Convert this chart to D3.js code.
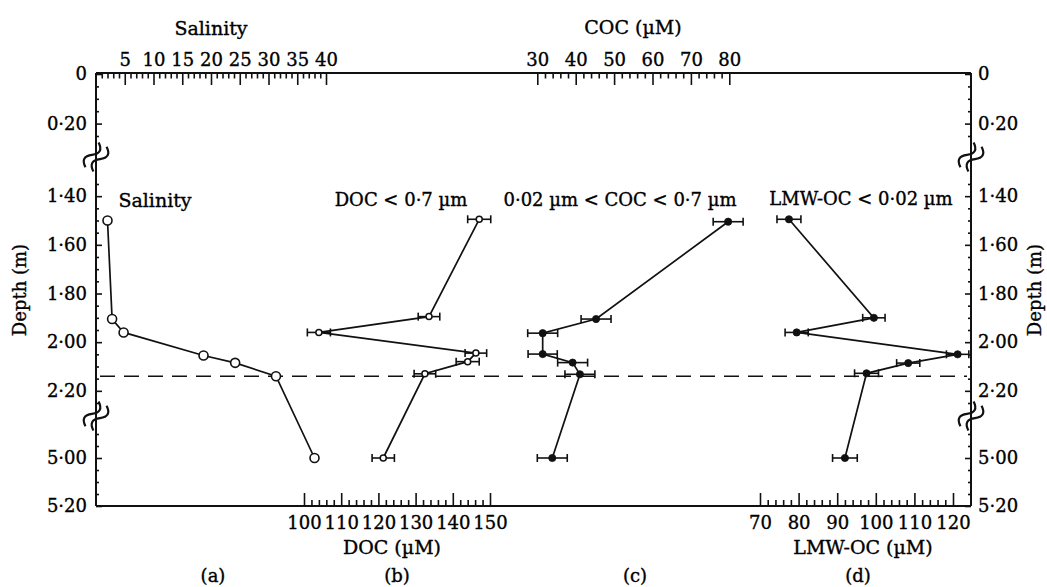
<!DOCTYPE html>
<html>
<head>
<meta charset="utf-8">
<script src="https://cdn.jsdelivr.net/npm/d3@7"></script>
<style>
  html, body { margin: 0; padding: 0; background: #fff; }
  svg { display: block; }
  text { font-family: "DejaVu Serif", "Liberation Serif", serif; fill: #000; stroke: #000; stroke-width: 0.35px; }
</style>
</head>
<body>
<svg id="chart" width="1047" height="587"></svg>
<script>
// ---------------- data ----------------
const depthMajorTicks = [0, 0.2, 1.4, 1.6, 1.8, 2.0, 2.2, 5.0, 5.2];
const depthSegments = [[0, 0.25], [1.35, 2.25], [4.9, 5.2]];

const salinityTicks = [5, 10, 15, 20, 25, 30, 35, 40];
const docTicks = [100, 110, 120, 130, 140, 150];
const cocTicks = [30, 40, 50, 60, 70, 80];
const lmwTicks = [70, 80, 90, 100, 110, 120];

const salinityDepth = [1.50, 1.905, 1.96, 2.055, 2.085, 2.14, 5.00];
const salinity      = [2.0, 2.8, 4.8, 18.7, 24.2, 31.3, 38.0];

const docDepth = [1.495, 1.895, 1.96, 2.045, 2.08, 2.13, 5.00];
const doc      = [147.1, 133.6, 104.0, 146.2, 144.0, 132.5, 121.3];
const docErr   = [3.1, 2.9, 3.1, 2.9, 3.1, 2.9, 3.0];

const cocDepth = [1.505, 1.905, 1.963, 2.049, 2.084, 2.132, 5.00];
const coc      = [79.7, 45.3, 31.4, 31.4, 39.2, 41.1, 33.9];
const cocErr   = [3.9, 3.9, 3.9, 3.8, 3.9, 3.9, 3.9];

const lmwDepth = [1.495, 1.90, 1.96, 2.05, 2.086, 2.128, 5.00];
const lmw      = [77.5, 99.5, 79.5, 121.2, 108.4, 97.6, 92.0];
const lmwErr   = [3.1, 2.9, 3.0, 2.9, 3.0, 3.1, 3.2];

const mixingDepth = 2.14;

// ---------------- layout ----------------
const svg = d3.select("#chart");
const X0 = 96, X1 = 971, Y0 = 73, Y1 = 506;

const y = d3.scaleLinear()
  .domain([0, 0.25, 1.35, 2.25, 4.9, 5.2])
  .range([Y0 + 1, 136, 184, 403, 434, Y1]);

const xSal = d3.scaleLinear().domain([0, 40]).range([X0, 326]);
const xDoc = d3.scaleLinear().domain([100, 150]).range([304, 490]);
const xCoc = d3.scaleLinear().domain([30, 80]).range([537.3, 729.3]);
const xLmw = d3.scaleLinear().domain([70, 120]).range([760, 953]);

const fmtDepth = d => d === 0 ? "0" : d.toFixed(2).replace(".", "\u00B7");

// ---------------- frame ----------------
const frame = svg.append("g").attr("stroke", "#111").attr("stroke-width", 2).attr("fill", "none");
frame.append("line").attr("x1", X0).attr("x2", X1).attr("y1", Y0).attr("y2", Y0);
frame.append("line").attr("x1", X0).attr("x2", X1).attr("y1", Y1).attr("y2", Y1);
frame.append("line").attr("x1", X0).attr("x2", X0).attr("y1", Y0).attr("y2", Y1);
frame.append("line").attr("x1", X1).attr("x2", X1).attr("y1", Y0).attr("y2", Y1);

function styleAxis(g, fontSize) {
  g.select(".domain").remove();
  g.selectAll(".tick line").attr("stroke", "#111").attr("stroke-width", 1.6);
  g.selectAll(".tick text").attr("font-family", "DejaVu Serif, serif")
    .attr("font-size", fontSize).attr("fill", "#000");
  return g;
}

// minor depth ticks every 0.05 in each visible segment
const depthMinor = [];
depthSegments.forEach(([a, b]) => {
  for (let v = a; v <= b + 1e-9; v += 0.05) {
    const r = Math.round(v * 100) / 100;
    if (!depthMajorTicks.some(t => Math.abs(t - r) < 1e-6)) depthMinor.push(r);
  }
});

// Left axis
styleAxis(svg.append("g").attr("transform", `translate(${X0},0)`)
  .call(d3.axisLeft(y).tickValues(depthMajorTicks).tickSize(-6).tickPadding(9).tickFormat(fmtDepth)), 18);
styleAxis(svg.append("g").attr("transform", `translate(${X0},0)`)
  .call(d3.axisLeft(y).tickValues(depthMinor).tickSize(-3).tickFormat("")), 18);
// Right axis
styleAxis(svg.append("g").attr("transform", `translate(${X1},0)`)
  .call(d3.axisRight(y).tickValues(depthMajorTicks).tickSize(-6).tickPadding(7).tickFormat(fmtDepth)), 18);
styleAxis(svg.append("g").attr("transform", `translate(${X1},0)`)
  .call(d3.axisRight(y).tickValues(depthMinor).tickSize(-3).tickFormat("")), 18);

function minorRange(a, b, step, majorStep) {
  const out = [];
  for (let v = a; v <= b + 1e-9; v += step) {
    const r = Math.round(v * 100) / 100;
    if (Math.abs(r / majorStep - Math.round(r / majorStep)) > 1e-6) out.push(r);
  }
  return out;
}

// Salinity (top)
styleAxis(svg.append("g").attr("transform", `translate(0,${Y0})`)
  .call(d3.axisTop(xSal).tickValues(salinityTicks).tickSize(-12).tickPadding(7).tickFormat(d3.format("d"))), 18);
styleAxis(svg.append("g").attr("transform", `translate(0,${Y0})`)
  .call(d3.axisTop(xSal).tickValues(minorRange(1, 39, 1, 5)).tickSize(-5.5).tickFormat("")), 18);
// COC (top)
styleAxis(svg.append("g").attr("transform", `translate(0,${Y0})`)
  .call(d3.axisTop(xCoc).tickValues(cocTicks).tickSize(-12).tickPadding(7).tickFormat(d3.format("d"))), 18);
styleAxis(svg.append("g").attr("transform", `translate(0,${Y0})`)
  .call(d3.axisTop(xCoc).tickValues(minorRange(32, 78, 2, 10)).tickSize(-5.5).tickFormat("")), 18);
// DOC (bottom)
styleAxis(svg.append("g").attr("transform", `translate(0,${Y1})`)
  .call(d3.axisBottom(xDoc).tickValues(docTicks).tickSize(-13).tickPadding(10).tickFormat(d3.format("d"))), 18);
styleAxis(svg.append("g").attr("transform", `translate(0,${Y1})`)
  .call(d3.axisBottom(xDoc).tickValues(minorRange(102, 148, 2, 10)).tickSize(-6).tickFormat("")), 18);
// LMW-OC (bottom)
styleAxis(svg.append("g").attr("transform", `translate(0,${Y1})`)
  .call(d3.axisBottom(xLmw).tickValues(lmwTicks).tickSize(-13).tickPadding(10).tickFormat(d3.format("d"))), 18);
styleAxis(svg.append("g").attr("transform", `translate(0,${Y1})`)
  .call(d3.axisBottom(xLmw).tickValues(minorRange(72, 118, 2, 10)).tickSize(-6).tickFormat("")), 18);

// axis breaks
function brk(cx, cy) {
  const g = svg.append("g").attr("transform", `translate(${cx},${cy}) rotate(-62)`)
    .attr("fill", "none").attr("stroke", "#111").attr("stroke-width", 2.2);
  g.append("path").attr("d", "M-14,-4.5 q7,-10 14,0 t14,0");
  g.append("path").attr("d", "M-14,4.5 q7,-10 14,0 t14,0");
}
[157, 416].forEach(cy => { brk(X0, cy); brk(X1, cy); });

// ---------------- mixing line ----------------
svg.append("line")
  .attr("x1", X0 + 4).attr("x2", X1 - 4)
  .attr("y1", y(mixingDepth)).attr("y2", y(mixingDepth))
  .attr("stroke", "#111").attr("stroke-width", 1.4).attr("stroke-dasharray", "15,9");

// ---------------- series ----------------
function series(depths, vals, errs, xs, marker) {
  const pts = depths.map((d, i) => ({ d, v: vals[i], e: errs ? errs[i] : 0 }));
  const g = svg.append("g");
  g.append("path").datum(pts)
    .attr("d", d3.line().x(p => xs(p.v)).y(p => y(p.d)))
    .attr("fill", "none").attr("stroke", "#111").attr("stroke-width", 1.7);
  if (errs) {
    const eb = g.selectAll(".eb").data(pts).join("g").attr("stroke", "#111").attr("stroke-width", 1.6);
    eb.append("line").attr("x1", p => xs(p.v - p.e)).attr("x2", p => xs(p.v + p.e))
      .attr("y1", p => y(p.d)).attr("y2", p => y(p.d));
    eb.append("line").attr("x1", p => xs(p.v - p.e)).attr("x2", p => xs(p.v - p.e))
      .attr("y1", p => y(p.d) - 4).attr("y2", p => y(p.d) + 4);
    eb.append("line").attr("x1", p => xs(p.v + p.e)).attr("x2", p => xs(p.v + p.e))
      .attr("y1", p => y(p.d) - 4).attr("y2", p => y(p.d) + 4);
  }
  g.selectAll("circle").data(pts).join("circle")
    .attr("cx", p => xs(p.v)).attr("cy", p => y(p.d))
    .attr("r", marker.r)
    .attr("fill", marker.fill).attr("stroke", "#111").attr("stroke-width", marker.sw);
}
series(salinityDepth, salinity, null, xSal, { r: 4.5, fill: "#fff", sw: 1.6 });
series(docDepth, doc, docErr, xDoc, { r: 3, fill: "#fff", sw: 1.5 });
series(cocDepth, coc, cocErr, xCoc, { r: 3.6, fill: "#111", sw: 0.8 });
series(lmwDepth, lmw, lmwErr, xLmw, { r: 3.6, fill: "#111", sw: 0.8 });

// ---------------- text ----------------
function txt(x, yy, s, size, anchor = "middle", rot = 0) {
  const t = svg.append("text").attr("font-size", size).attr("text-anchor", anchor).text(s);
  if (rot) t.attr("transform", `translate(${x},${yy}) rotate(${rot})`);
  else t.attr("x", x).attr("y", yy);
  return t;
}
txt(211, 35, "Salinity", 19);
txt(633, 34, "COC (\u00B5M)", 19);
txt(392, 554, "DOC (\u00B5M)", 19);
txt(863, 554, "LMW-OC (\u00B5M)", 19);

txt(155, 207, "Salinity", 19);
txt(401, 206, "DOC < 0\u00B77 \u00B5m", 18);
txt(620, 206, "0\u00B702 \u00B5m < COC < 0\u00B77 \u00B5m", 18);
txt(861, 205, "LMW-OC < 0\u00B702 \u00B5m", 18);

txt(213, 582, "(a)", 18);
txt(397, 582, "(b)", 18);
txt(635, 582, "(c)", 18);
txt(858, 582, "(d)", 18);

txt(26, 290, "Depth (m)", 18, "middle", -90);
txt(1041, 290, "Depth (m)", 18, "middle", -90);
</script>
</body>
</html>
